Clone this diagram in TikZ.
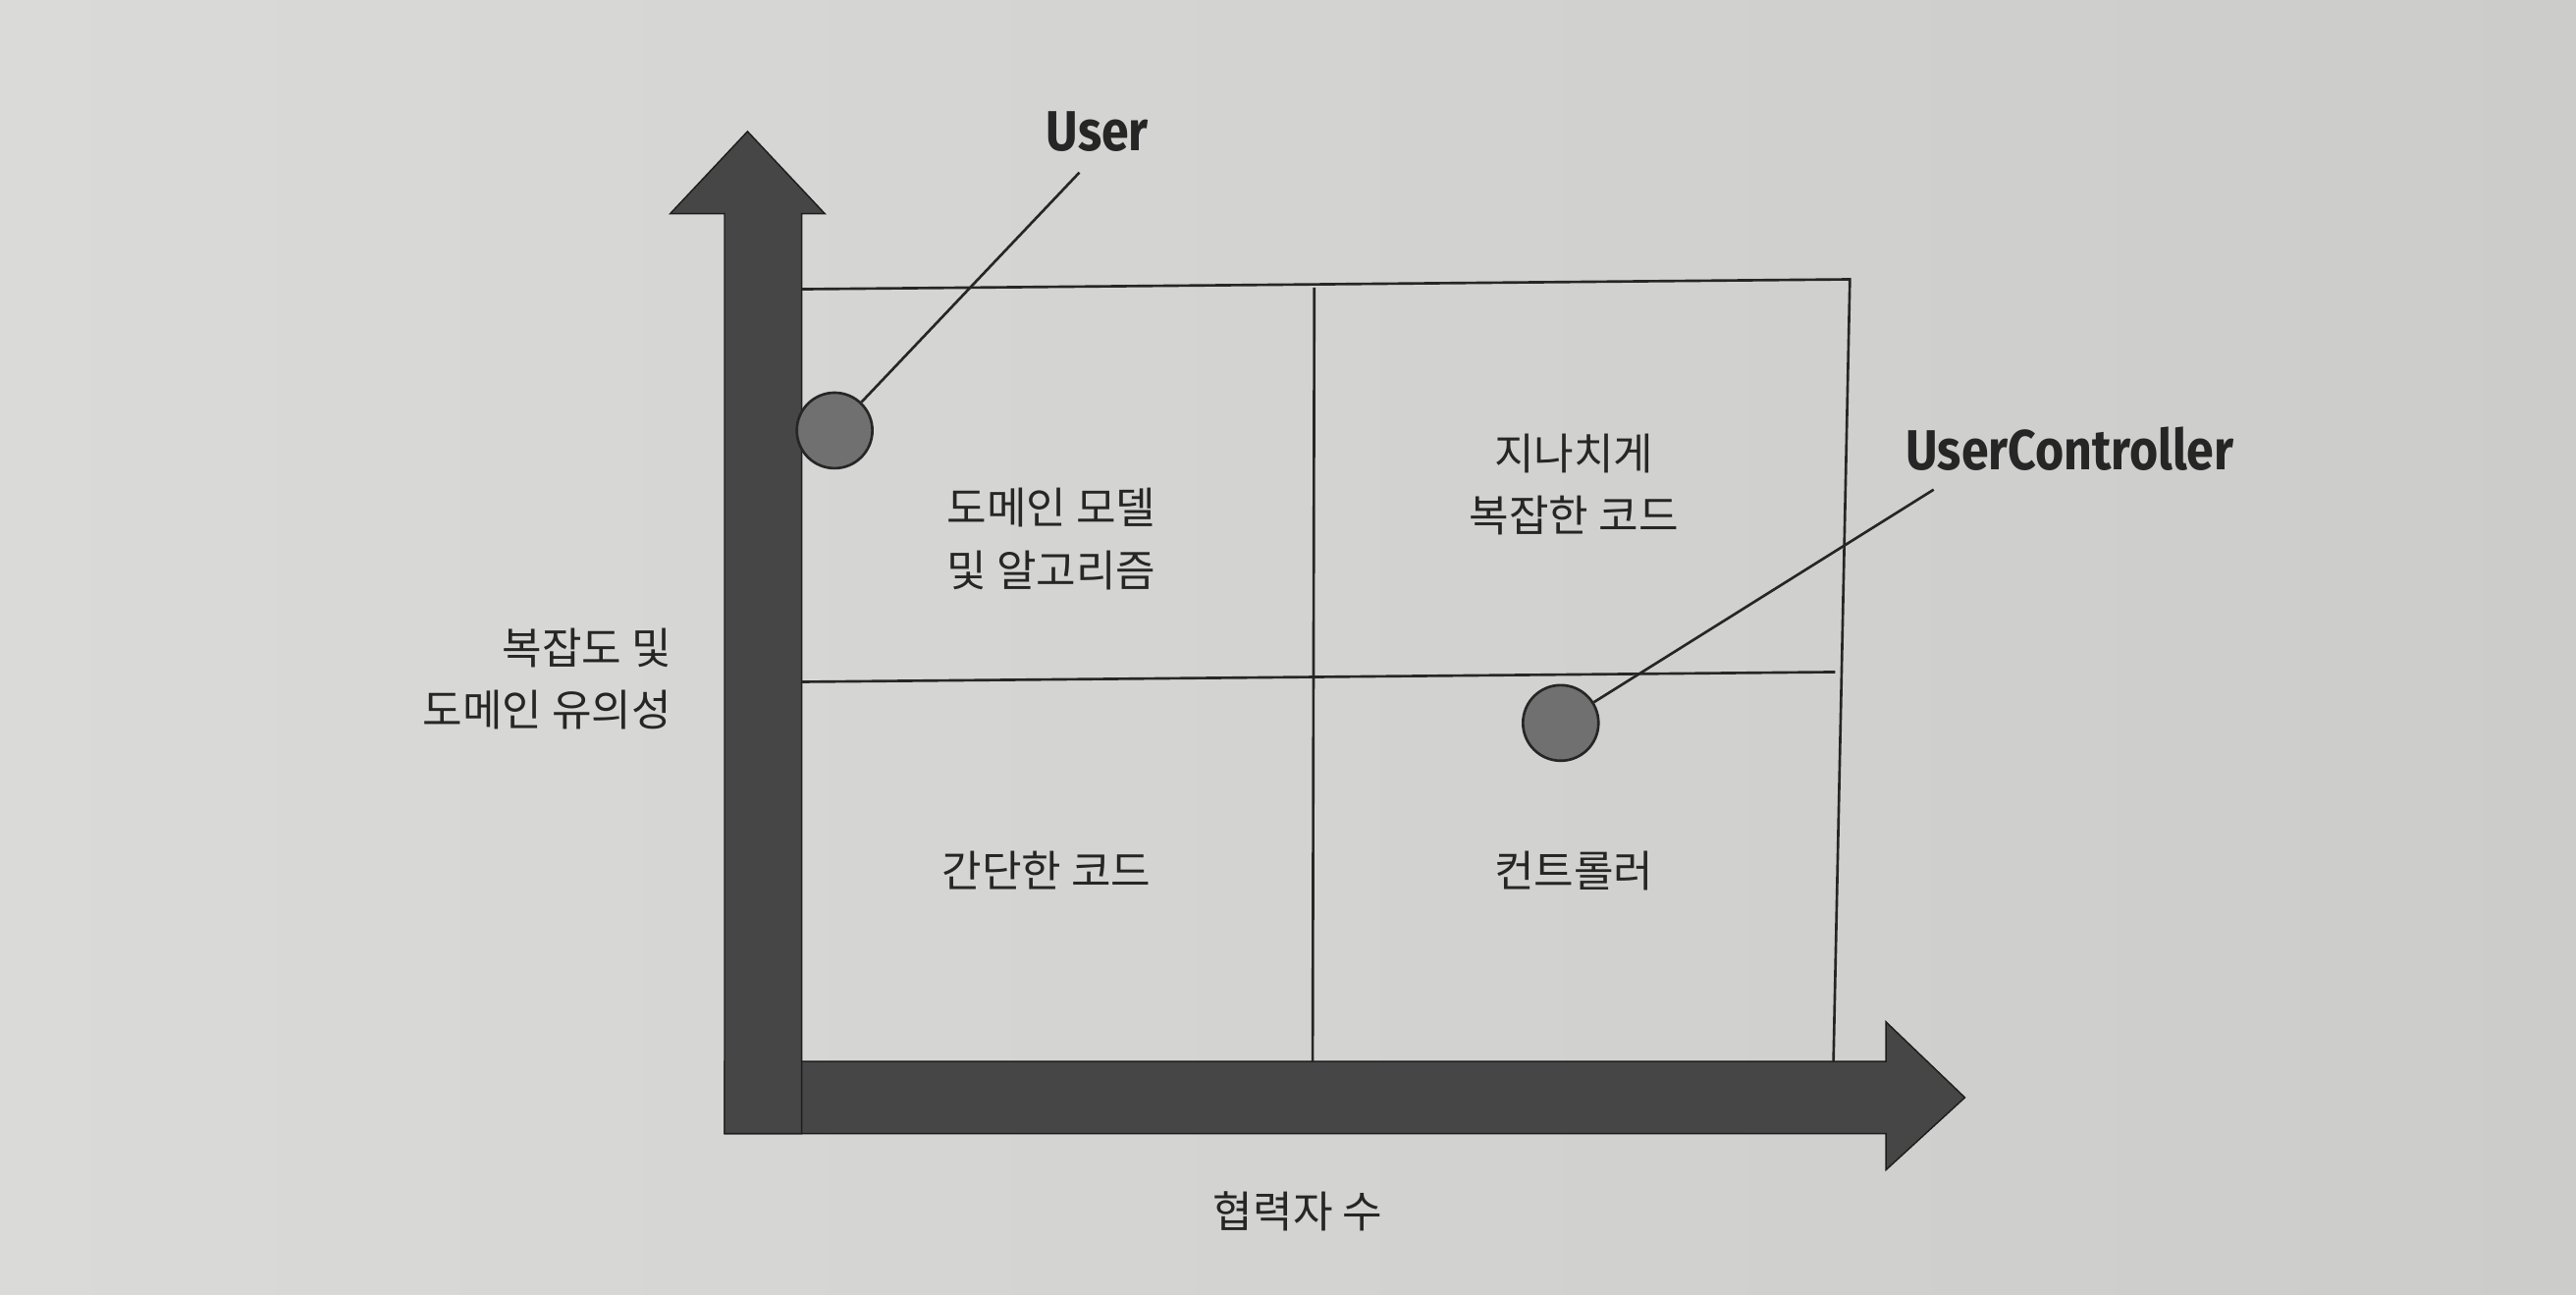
\documentclass[tikz,border=0pt]{standalone}
\usepackage{fontspec}
\newfontfamily\kr{Noto Sans CJK KR}
\newfontfamily\lab{Fira Sans}
\definecolor{paperL}{RGB}{218,218,216}
\definecolor{paperR}{RGB}{204,204,202}
\definecolor{axisfill}{RGB}{70,70,70}
\definecolor{ink}{RGB}{38,38,38}
\definecolor{dotfill}{RGB}{112,112,112}
\tikzset{
  axisarrow/.style={fill=axisfill, draw=ink!80!black, line width=0.5pt},
  gridline/.style={draw=ink, line width=0.9pt},
  dot/.style={circle, draw=ink, line width=0.9pt, fill=dotfill, minimum size=0.92cm, inner sep=0pt},
  krtext/.style={text=ink, font=\kr\fontsize{15}{21.5}\selectfont, align=center, inner sep=0pt},
  boldlab/.style={text=ink, font=\lab\bfseries\fontsize{17}{20}\selectfont, inner sep=0pt},
  leader/.style={draw=ink, line width=0.9pt}
}
\begin{document}
\begin{tikzpicture}[x=0.02cm,y=-0.02cm]
\useasboundingbox (0,0) rectangle (1568,788);
\fill[left color=paperL, right color=paperR] (0,0) rectangle (1568,788);

% horizontal axis arrow
\path[axisarrow] (441,646) -- (1148,646) -- (1148,622) -- (1196,668) -- (1148,712) -- (1148,690) -- (441,690) -- cycle;
% vertical axis arrow
\path[axisarrow] (441,690) -- (441,130) -- (408,130) -- (455,80) -- (502,130) -- (488,130) -- (488,690) -- cycle;

% grid
\draw[gridline] (488,176) -- (1126,170) -- (1116,646);
\draw[gridline] (800,175) -- (799,646);
\draw[gridline] (488,415) -- (1117,409);

% quadrant labels
\node[krtext] (dm) at (640,328) {도메인 모델\\및 알고리즘};
\node[krtext] (over) at (958,295) {지나치게\\복잡한 코드};
\node[krtext] (simple) at (637,530) {간단한 코드};
\node[krtext] (ctrl) at (958,530) {컨트롤러};

% axis labels
\node[krtext, align=right, anchor=east] (ylab) at (409,413) {복잡도 및\\도메인 유의성};
\node[krtext] (xlab) at (790,737) {협력자 수};

% points
\node[dot] (ucirc) at (508,262) {};
\node[dot] (ccirc) at (950,440) {};

\node[boldlab] (user) at (668,80) {\scalebox{1}[1.15]{User}};
\node[boldlab] (uc) at (1260,273) {\scalebox{1}[1.15]{UserController}};
\coordinate (uend) at (657,105);
\coordinate (cend) at (1177,298);
\draw[leader] (uend) -- (ucirc);
\draw[leader] (cend) -- (ccirc);
\end{tikzpicture}
\end{document}
